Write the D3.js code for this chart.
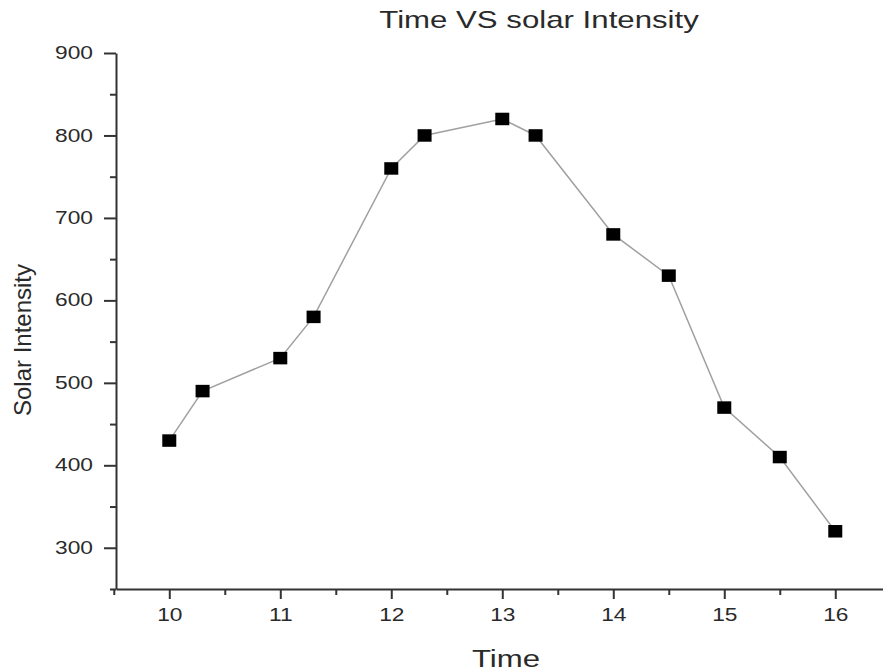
<!DOCTYPE html>
<html><head><meta charset="utf-8">
<script src="https://cdn.jsdelivr.net/npm/d3@7"></script>
<style>body{margin:0;background:#fff}svg{display:block}text{font-family:"Liberation Sans",Arial,sans-serif;fill:#2a2a2a}</style>
</head><body>
<script>
const times = [10, 10.3, 11, 11.3, 12, 12.3, 13, 13.3, 14, 14.5, 15, 15.5, 16];
const intensity = [430, 490, 530, 580, 760, 800, 820, 800, 680, 630, 470, 410, 320];
const xTicks = [10, 11, 12, 13, 14, 15, 16];
const yTicks = [300, 400, 500, 600, 700, 800, 900];
const title = "Time VS solar Intensity";
const xTitle = "Time";
const yTitle = "Solar Intensity";

const W = 883, H = 672;
const svg = d3.select("body").append("svg").attr("width", W).attr("height", H);
const pLeft = 116, pRight = 883, pTop = 53, pBottom = 589;
const x = d3.scaleLinear().domain([9.52, 16.43]).range([pLeft, pRight]);
const y = d3.scaleLinear().domain([250, 900]).range([pBottom, pTop]);
const SX = 1.3; // horizontal stretch of text

const axisColor = "#333";
// Y axis
const yAx = svg.append("g").attr("transform", `translate(${pLeft},0)`)
  .call(d3.axisLeft(y).tickValues(yTicks).tickFormat(d3.format("d")).tickSize(12).tickPadding(11).tickSizeOuter(0));
yAx.select(".domain").attr("stroke", axisColor).attr("stroke-width", 2);
yAx.selectAll(".tick line").attr("stroke", axisColor).attr("stroke-width", 2);
yAx.selectAll(".tick text").style("font-size", "17.5px").attr("fill", "#2a2a2a")
  .each(function () {
    const t = d3.select(this); const tx = +t.attr("x");
    t.attr("x", 0).attr("transform", `translate(${tx},0) scale(${SX},1)`);
  });
svg.append("g").attr("transform", `translate(${pLeft},0)`)
  .call(d3.axisLeft(y).tickValues([250, 350, 450, 550, 650, 750, 850]).tickSize(6).tickFormat(""))
  .call(g => { g.select(".domain").remove(); g.selectAll("line").attr("stroke", axisColor).attr("stroke-width", 2); });

// X axis
const xAx = svg.append("g").attr("transform", `translate(0,${pBottom})`)
  .call(d3.axisBottom(x).tickValues(xTicks).tickFormat(d3.format("d")).tickSize(10).tickPadding(10).tickSizeOuter(0));
xAx.select(".domain").attr("stroke", axisColor).attr("stroke-width", 2);
xAx.selectAll(".tick line").attr("stroke", axisColor).attr("stroke-width", 2);
xAx.selectAll(".tick text").style("font-size", "17.5px").attr("fill", "#2a2a2a")
  .attr("transform", `scale(${SX},1)`);
svg.append("g").attr("transform", `translate(0,${pBottom})`)
  .call(d3.axisBottom(x).tickValues([9.5, 10.5, 11.5, 12.5, 13.5, 14.5, 15.5]).tickSize(6).tickFormat(""))
  .call(g => { g.select(".domain").remove(); g.selectAll("line").attr("stroke", axisColor).attr("stroke-width", 2); });

// line
const data = times.map((t, i) => ({t, v: intensity[i]}));
svg.append("path").datum(data)
  .attr("fill", "none").attr("stroke", "#a0a0a0").attr("stroke-width", 1.5)
  .attr("d", d3.line().x(d => x(d.t)).y(d => y(d.v)));
const mw = 14, mh = 12.5;
svg.selectAll("rect.pt").data(data).enter().append("rect").attr("class", "pt")
  .attr("x", d => x(d.t) - mw / 2).attr("y", d => y(d.v) - mh / 2)
  .attr("width", mw).attr("height", mh).attr("fill", "#000");

// titles
svg.append("text").attr("transform", `translate(539,28) scale(${SX},1)`).attr("text-anchor", "middle")
  .style("font-size", "24px").text(title);
svg.append("text").attr("transform", `translate(506,667) scale(${SX},1)`).attr("text-anchor", "middle")
  .style("font-size", "24px").text(xTitle);
svg.append("text").attr("transform", `translate(31,340) rotate(-90)`)
  .attr("text-anchor", "middle").style("font-size", "24px").text(yTitle);
</script>
</body></html>
